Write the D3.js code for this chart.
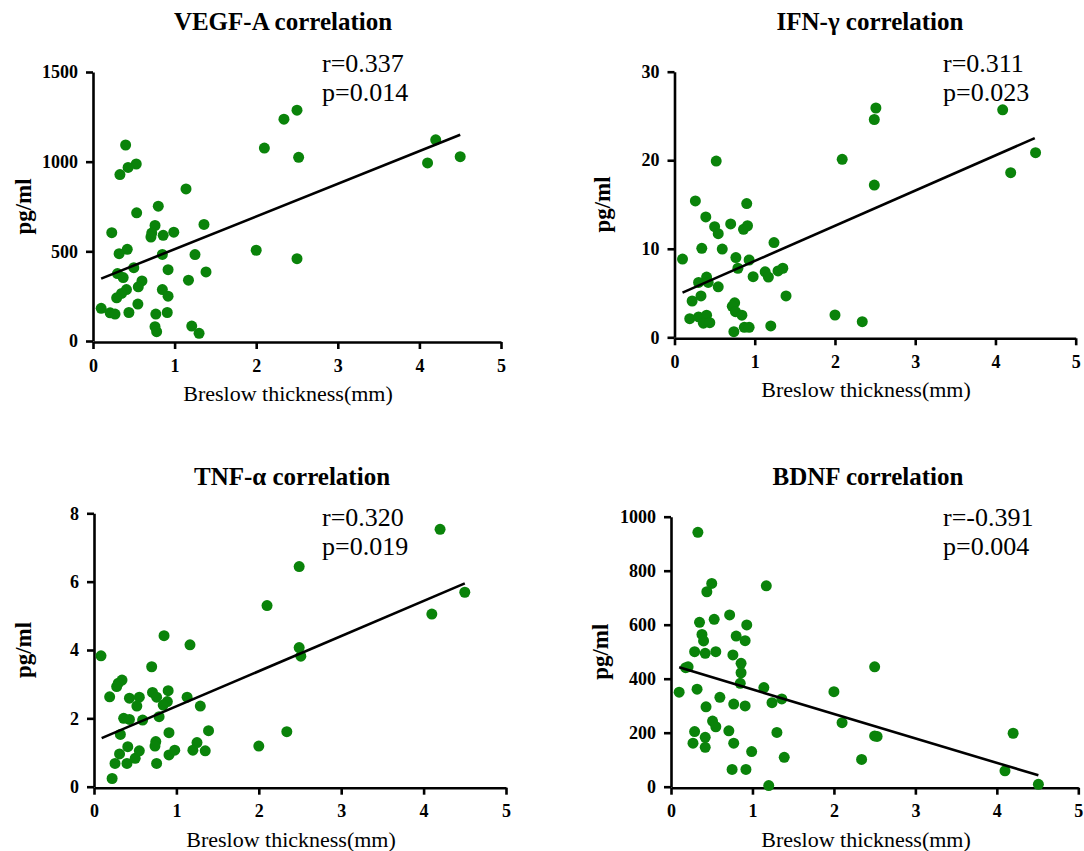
<!DOCTYPE html>
<html><head><meta charset="utf-8">
<script src="https://cdn.jsdelivr.net/npm/d3@7"></script>
<style>
body{margin:0;background:#fff;}
svg{display:block;}
</style></head>
<body>
<svg id="chart" width="1084" height="851"></svg>
<script>
// ---------- DATA ----------
const xTicks = [0, 1, 2, 3, 4, 5];

const vegfX = [0.40,0.53,0.43,0.33,1.14,0.80,0.535,1.36,0.76,0.23,0.72,0.71,0.86,0.99,0.42,0.32,0.85,1.25,0.50,1.385,0.30,0.37,0.92,1.17,0.60,0.555,0.41,0.35,0.29,0.85,0.92,0.10,0.21,0.27,0.44,0.55,0.77,0.91,0.76,0.78,1.21,1.30,2.50,2.34,2.10,2.52,4.20,4.10,4.50,2.0,2.50];
const vegfY = [1093,987,968,928,848,752,715,650,644,604,602,580,589,607,511,487,483,482,409,385,376,354,398,339,335,302,287,265,241,287,250,182,157,150,159,206,150,159,80,52,83,43,1287,1237,1076,1024,1122,993,1028,506,459];
const vegfFitX = [0.10, 4.50];
const vegfFitY = [348, 1150];
const vegfTicks = [0, 500, 1000, 1500];

const ifnX = [0.52,0.26,0.90,0.39,0.50,0.545,0.70,0.86,0.91,1.24,0.34,0.595,0.10,0.765,0.93,0.79,1.13,1.17,1.29,1.35,0.98,0.40,0.30,0.42,0.545,0.33,0.22,1.39,0.75,0.72,0.76,0.84,0.19,0.30,0.40,0.36,0.44,0.74,0.87,0.93,1.20,2.51,2.49,2.09,2.49,4.09,4.50,4.19,2.0,2.34];
const ifnY = [19.9,15.4,15.1,13.6,12.5,11.7,12.8,12.2,12.6,10.7,10.05,9.97,8.84,9.0,8.73,7.8,7.4,6.8,7.5,7.8,6.85,6.8,6.2,6.2,5.7,4.67,4.1,4.67,3.9,3.5,2.9,2.5,2.1,2.3,2.5,1.6,1.65,0.63,1.13,1.13,1.28,25.9,24.6,20.1,17.2,25.7,20.85,18.6,2.52,1.77];
const ifnFitX = [0.10, 4.49];
const ifnFitY = [5.04, 22.5];
const ifnTicks = [0, 10, 20, 30];

const tnfX = [0.85,1.165,0.085,0.70,0.34,0.295,0.275,0.19,0.43,0.55,0.52,0.71,0.76,0.90,0.89,0.84,1.13,1.29,0.36,0.43,0.59,0.79,0.32,0.91,1.39,0.41,0.31,0.255,0.40,0.50,0.55,0.75,0.74,0.76,0.91,0.98,1.25,1.20,1.35,0.22,4.20,2.49,2.10,4.50,4.10,2.49,2.51,2.34,2.0];
const tnfY = [4.42,4.15,3.83,3.51,3.12,3.03,2.93,2.63,2.59,2.62,2.36,2.76,2.62,2.81,2.49,2.39,2.62,2.36,2.0,1.97,1.95,2.05,1.53,1.58,1.64,1.17,0.96,0.68,0.68,0.83,1.05,1.32,1.19,0.68,0.93,1.07,1.29,1.07,1.05,0.24,7.53,6.44,5.30,5.69,5.05,4.07,3.82,1.61,1.19];
const tnfFitX = [0.093, 4.50];
const tnfFitY = [1.42, 5.95];
const tnfTicks = [0, 2, 4, 6, 8];

const bdnfX = [0.33,0.50,0.44,1.17,0.72,0.53,0.35,0.93,0.38,0.40,0.80,0.91,0.29,0.42,0.55,0.76,0.86,0.86,0.21,0.18,0.85,0.10,0.32,1.14,1.24,1.36,0.60,0.77,0.91,0.43,0.51,0.55,0.71,0.29,0.27,0.42,0.42,0.77,1.30,0.99,1.39,0.75,0.92,1.20,2.50,2.0,2.10,2.50,2.53,2.34,4.20,4.10,4.51];
const bdnfY = [942,753,722,744,636,620,609,599,564,540,558,541,500,494,500,488,457,422,444,441,383,350,361,367,311,325,331,306,299,296,243,222,207,204,161,183,146,161,201,130,109,64,64,4,444,352,237,188,186,101,198,59,9];
const bdnfFitX = [0.10, 4.51];
const bdnfFitY = [442, 42];
const bdnfTicks = [0, 200, 400, 600, 800, 1000];

const titles = ["VEGF-A correlation", "IFN-γ correlation", "TNF-α correlation", "BDNF correlation"];
const rTexts = ["r=0.337", "r=0.311", "r=0.320", "r=-0.391"];
const pTexts = ["p=0.014", "p=0.023", "p=0.019", "p=0.004"];
const yLabel = "pg/ml";
const xLabel = "Breslow thickness(mm)";

// ---------- LAYOUT ----------
const panels = [
  {x:vegfX, y:vegfY, fx:vegfFitX, fy:vegfFitY, ticks:vegfTicks, ymax:1500,
   left:93, right:501, bottom:341, top:72, titleX:283, titleY:30, statX:322, statY:72, yLabX:23, xLabX:288, i:0},
  {x:ifnX, y:ifnY, fx:ifnFitX, fy:ifnFitY, ticks:ifnTicks, ymax:30,
   left:674.5, right:1075.7, bottom:337.3, top:71.7, titleX:870, titleY:30, statX:943, statY:72, yLabX:602, xLabX:866, i:1},
  {x:tnfX, y:tnfY, fx:tnfFitX, fy:tnfFitY, ticks:tnfTicks, ymax:8,
   left:94, right:506, bottom:786.7, top:513.3, titleX:292, titleY:485, statX:322, statY:526, yLabX:23, xLabX:291, i:2},
  {x:bdnfX, y:bdnfY, fx:bdnfFitX, fy:bdnfFitY, ticks:bdnfTicks, ymax:1000,
   left:671, right:1078.3, bottom:786.7, top:516.7, titleX:868, titleY:485, statX:943, statY:526, yLabX:600, xLabX:866, i:3}
];

const svg = d3.select("#chart");
const serif = "'Liberation Serif', 'Times New Roman', serif";
const green = "#0a830a";

panels.forEach(p => {
  const g = svg.append("g");
  const xs = d3.scaleLinear().domain([0, 5]).range([p.left, p.right]);
  const ys = d3.scaleLinear().domain([0, p.ymax]).range([p.bottom, p.top]);

  // title
  g.append("text").attr("x", p.titleX).attr("y", p.titleY)
    .attr("text-anchor", "middle").attr("font-family", serif)
    .attr("font-weight", "bold").attr("font-size", 25).text(titles[p.i]);

  // axes
  const xa = g.append("g").attr("transform", `translate(0,${p.bottom + 1})`)
    .call(d3.axisBottom(xs).tickValues(xTicks).tickFormat(d3.format("d"))
      .tickSizeOuter(0).tickSizeInner(7).tickPadding(10));
  const ya = g.append("g").attr("transform", `translate(${p.left},0)`)
    .call(d3.axisLeft(ys).tickValues(p.ticks).tickFormat(d3.format("d"))
      .tickSizeOuter(0).tickSizeInner(7).tickPadding(8));
  [xa, ya].forEach(a => {
    a.select(".domain").attr("stroke", "#000").attr("stroke-width", 2.6);
    a.selectAll(".tick line").attr("stroke", "#000").attr("stroke-width", 2.6);
    a.selectAll(".tick text").attr("font-family", serif).attr("font-weight", "bold")
      .attr("font-size", 18).attr("fill", "#000");
  });

  // axis labels
  g.append("text").attr("x", p.xLabX).attr("y", p.bottom + 60)
    .attr("text-anchor", "middle").attr("font-family", serif)
    .attr("font-size", 22).text(xLabel);
  g.append("text")
    .attr("transform", `translate(${p.yLabX + 8},${(p.top + p.bottom) / 2}) rotate(-90)`)
    .attr("text-anchor", "middle").attr("font-family", serif)
    .attr("font-weight", "bold").attr("font-size", 23).text(yLabel);

  // points
  g.append("g").selectAll("circle").data(p.x.map((v, k) => [v, p.y[k]]))
    .join("circle").attr("cx", d => xs(d[0])).attr("cy", d => ys(d[1]))
    .attr("r", 5.5).attr("fill", green);

  // fit line
  g.append("path").datum(p.fx.map((v, k) => [v, p.fy[k]]))
    .attr("d", d3.line().x(d => xs(d[0])).y(d => ys(d[1])))
    .attr("stroke", "#000").attr("stroke-width", 2.6).attr("fill", "none");

  // stats
  g.append("text").attr("x", p.statX).attr("y", p.statY)
    .attr("font-family", serif).attr("font-size", 26).text(rTexts[p.i]);
  g.append("text").attr("x", p.statX).attr("y", p.statY + 29)
    .attr("font-family", serif).attr("font-size", 26).text(pTexts[p.i]);
});
</script>
</body></html>
